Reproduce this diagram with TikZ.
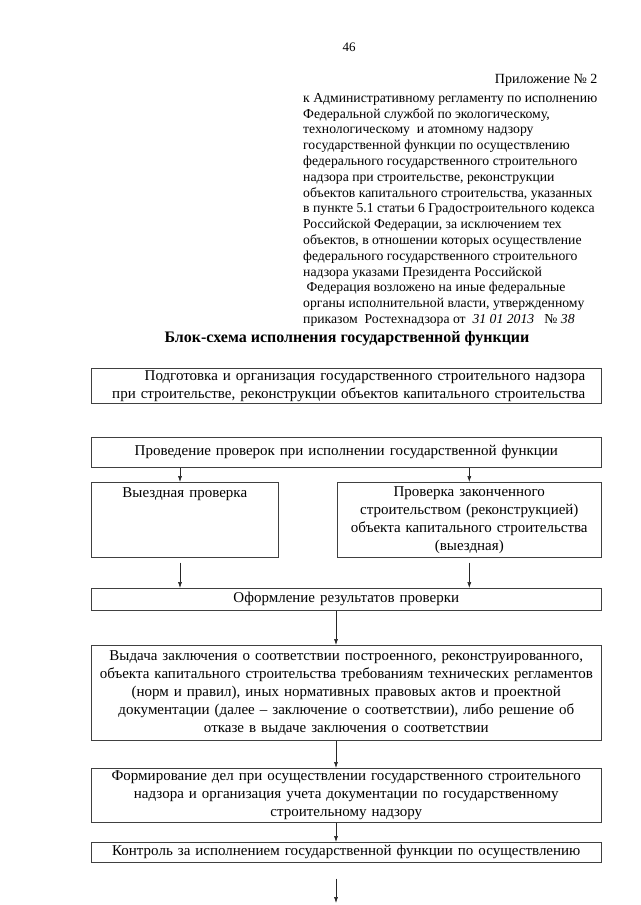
\documentclass[tikz,border=0pt]{standalone}
\usepackage{fontspec}
\setmainfont{Liberation Serif}
\usetikzlibrary{arrows.meta,positioning}

\begin{document}
\begin{tikzpicture}[x=1pt,y=-1pt,
  block/.style={draw=black!75, line width=0.6pt, anchor=north west,
    inner xsep=2pt, inner ysep=2pt, align=center,
    font=\fontsize{15}{18}\selectfont},
  arr/.style={draw=black!85, line width=0.6pt, -{Latex[length=6pt,width=4pt]}}
]
  \useasboundingbox (0,0) rectangle (640,905);

  % Header
  \node[font=\fontsize{13}{16}\selectfont] (page) at (349,47) {46};
  \node[anchor=east, font=\fontsize{14}{16}\selectfont] (annex) at (601,80) {Приложение № 2};
  \node[anchor=north west, align=left, inner sep=0pt,
    font=\fontsize{13.7}{15.8}\selectfont] (ref) at (303,93)
    {к Административному регламенту по исполнению\\
     Федеральной службой по экологическому,\\
     технологическому\ \ и атомному надзору\\
     государственной функции по осуществлению\\
     федерального государственного строительного\\
     надзора при строительстве, реконструкции\\
     объектов капитального строительства, указанных\\
     в пункте 5.1 статьи 6 Градостроительного кодекса\\
     Российской Федерации, за исключением тех\\
     объектов, в отношении которых осуществление\\
     федерального государственного строительного\\
     надзора указами Президента Российской\\
     \ Федерация возложено на иные федеральные\\
     органы исполнительной власти, утвержденному\\
     приказом\ \ Ростехнадзора от\ \ {\itshape 31 01 2013}\ \ \ № {\itshape 38}};
  \node[font=\fontsize{16}{18}\selectfont\bfseries] (title) at (347,339)
    {Блок-схема исполнения государственной функции};

  % Blocks
  \node[block, text width=506pt, minimum height=35pt, align=right] (prep) at (91,368)
    {Подготовка и организация государственного строительного надзора\rule{14pt}{0pt}\\
     при строительстве, реконструкции объектов капитального строительства\rule{14pt}{0pt}};
  \node[block, text width=506pt, minimum height=30pt] (check) at (91,437)
    {Проведение проверок при исполнении государственной функции};
  \node[block, text width=183pt, minimum height=75pt] (visit) at (91,482)
    {Выездная проверка\\ ~\\ ~\\ ~};
  \node[block, text width=260pt, minimum height=75pt] (final) at (337,482)
    {Проверка законченного\\ строительством (реконструкцией)\\
     объекта капитального строительства\\ (выездная)};
  \node[block, text width=506pt, minimum height=22pt] (result) at (91,588)
    {Оформление результатов проверки};
  \node[block, text width=506pt, minimum height=95pt] (issue) at (91,645)
    {Выдача заключения о соответствии построенного, реконструированного,\\
     объекта капитального строительства требованиям технических регламентов\\
     (норм и правил), иных нормативных правовых актов и проектной\\
     документации (далее – заключение о соответствии), либо решение об\\
     отказе в выдаче заключения о соответствии};
  \node[block, text width=506pt, minimum height=54pt] (cases) at (91,768)
    {Формирование дел при осуществлении государственного строительного\\
     надзора и организация учета документации по государственному\\
     строительному надзору};
  \node[block, text width=506pt, minimum height=20pt] (control) at (91,842)
    {Контроль за исполнением государственной функции по осуществлению};

  % Arrows
  \coordinate (lx) at (180,0);
  \coordinate (mx) at (336,0);
  \coordinate (tail) at (336,903);
  \draw[arr] (check.south -| lx) -- (visit.north -| lx);
  \draw[arr] (check.south -| final) -- (final.north);
  \draw[arr, shorten <=5pt] (visit.south -| lx) -- (result.north -| lx);
  \draw[arr, shorten <=5pt] (final.south) -- (result.north -| final);
  \draw[arr] (result.south -| mx) -- (issue.north -| mx);
  \draw[arr] (issue.south -| mx) -- (cases.north -| mx);
  \draw[arr] (cases.south -| mx) -- (control.north -| mx);
  \draw[arr, shorten <=16pt] (control.south -| mx) -- (tail);
\end{tikzpicture}
\end{document}
